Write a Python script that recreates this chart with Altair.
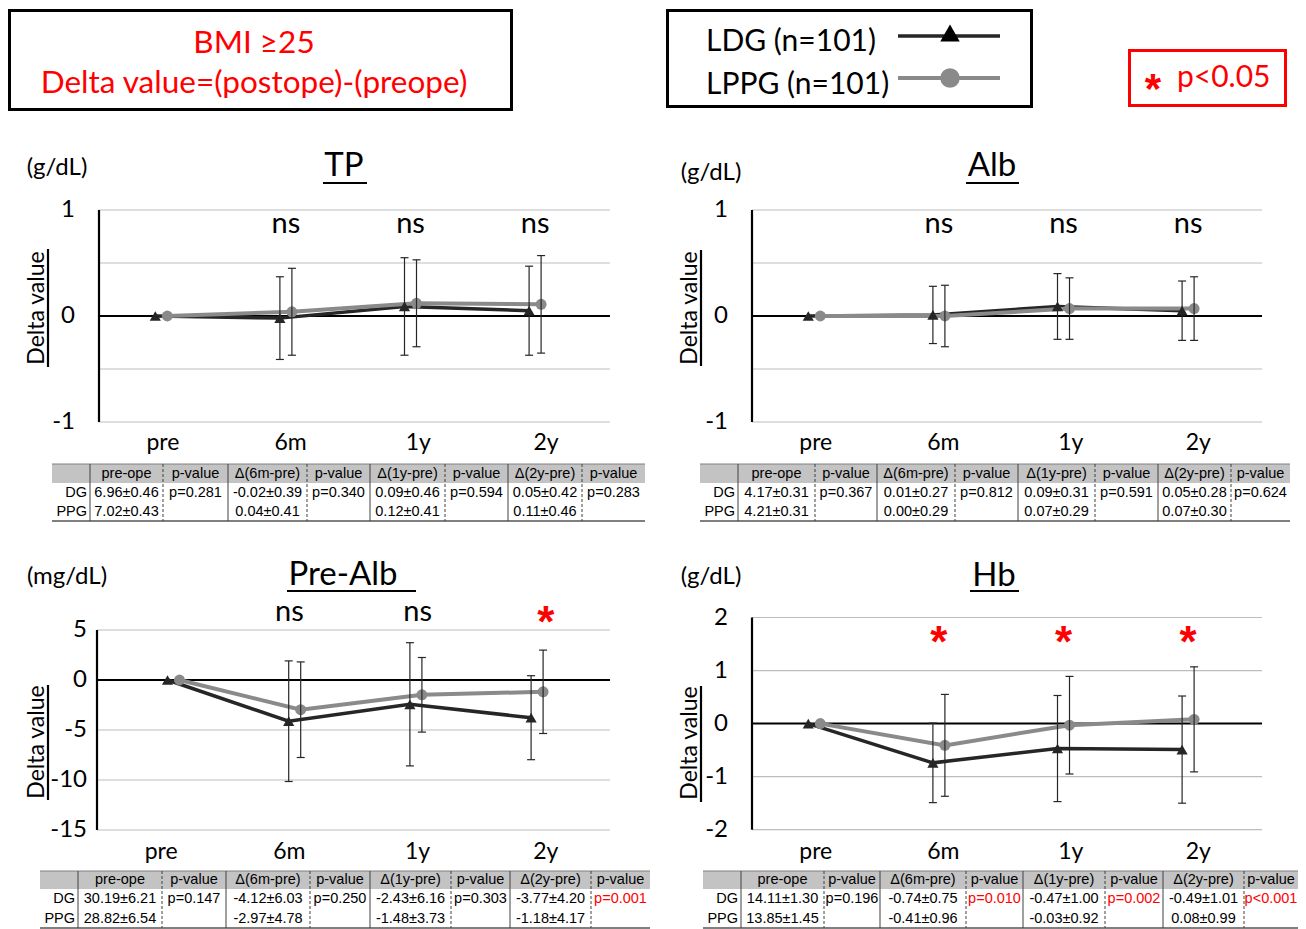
import altair as alt
import pandas as pd

# ---------------- data ----------------
times = ["pre", "6m", "1y", "2y"]
table_header = ["pre-ope", "p-value", "Δ(6m-pre)", "p-value", "Δ(1y-pre)", "p-value", "Δ(2y-pre)", "p-value"]
row_names = ["DG", "PPG"]

# TP
tp_dg_mean = [0.00, -0.02, 0.09, 0.05]
tp_dg_sd = [0.00, 0.39, 0.46, 0.42]
tp_ppg_mean = [0.00, 0.04, 0.12, 0.11]
tp_ppg_sd = [0.00, 0.41, 0.41, 0.46]
tp_pre_mean = [6.96, 7.02]
tp_pre_sd = [0.46, 0.43]
tp_p = ["p=0.281", "p=0.340", "p=0.594", "p=0.283"]
tp_sig = ["ns", "ns", "ns"]
tp_grid = [1, 0.5, 0, -0.5, -1]
tp_ticks = ["1", "0", "-1"]

# Alb
alb_dg_mean = [0.00, 0.01, 0.09, 0.05]
alb_dg_sd = [0.00, 0.27, 0.31, 0.28]
alb_ppg_mean = [0.00, 0.00, 0.07, 0.07]
alb_ppg_sd = [0.00, 0.29, 0.29, 0.30]
alb_pre_mean = [4.17, 4.21]
alb_pre_sd = [0.31, 0.31]
alb_p = ["p=0.367", "p=0.812", "p=0.591", "p=0.624"]
alb_sig = ["ns", "ns", "ns"]
alb_grid = [1, 0.5, 0, -0.5, -1]
alb_ticks = ["1", "0", "-1"]

# Pre-Alb
pa_dg_mean = [0.00, -4.12, -2.43, -3.77]
pa_dg_sd = [0.00, 6.03, 6.16, 4.20]
pa_ppg_mean = [0.00, -2.97, -1.48, -1.18]
pa_ppg_sd = [0.00, 4.78, 3.73, 4.17]
pa_pre_mean = [30.19, 28.82]
pa_pre_sd = [6.21, 6.54]
pa_p = ["p=0.147", "p=0.250", "p=0.303", "p=0.001"]
pa_sig = ["ns", "ns", "*"]
pa_grid = [5, 0, -5, -10, -15]
pa_ticks = ["5", "0", "-5", "-10", "-15"]

# Hb
hb_dg_mean = [0.00, -0.74, -0.47, -0.49]
hb_dg_sd = [0.00, 0.75, 1.00, 1.01]
hb_ppg_mean = [0.00, -0.41, -0.03, 0.08]
hb_ppg_sd = [0.00, 0.96, 0.92, 0.99]
hb_pre_mean = [14.11, 13.85]
hb_pre_sd = [1.30, 1.45]
hb_p = ["p=0.196", "p=0.010", "p=0.002", "p<0.001"]
hb_sig = ["*", "*", "*"]
hb_grid = [2, 1, 0, -1, -2]
hb_ticks = ["2", "1", "0", "-1", "-2"]

# ---------------- layout / style (page pixel coords) ----------------
FONT = "Lato"
TFONT = "Liberation Sans"
DARK = "#262626"
GRAYL = "#8a8a8a"
GRID = "#bdbdbd"
RED = "#ff0000"
TSIZE = 14.5

LAY = {
    "TP": dict(L=99, R=610, top=210, bot=422, c0=161.3, pitch=124.6, gap=24, sig_band=False,
               unit=(57, 168), title=(344, 165), tul=(323, 367, 183),
               ytit=(37, 308), yul=(48, 249, 367), sigy=224, caty=443,
               edges=[52, 90, 163, 228, 307, 370, 445, 508, 582, 645], rows=[464, 483, 502, 521]),
    "Alb": dict(L=752, R=1262, top=210, bot=422, c0=814.3, pitch=124.6, gap=24, sig_band=False,
                unit=(711, 173), title=(992, 165), tul=(966, 1019, 183),
                ytit=(690, 308), yul=(701, 250, 366), sigy=224, caty=443,
                edges=[700, 738, 815, 877, 955, 1018, 1095, 1158, 1231, 1290], rows=[464, 483, 502, 521]),
    "Pre-Alb": dict(L=97, R=610, top=630, bot=830, c0=173.5, pitch=121.2, gap=10, sig_band=True,
                    unit=(67, 577), title=(343, 574), tul=(287, 416, 591),
                    ytit=(37, 742), yul=(48, 685, 800), sigy=612, caty=852,
                    edges=[40, 78, 162, 226, 310, 370, 451, 510, 591, 650], rows=[871, 889, 909, 928]),
    "Hb": dict(L=752, R=1262, top=617.5, bot=829.7, c0=814.3, pitch=124.6, gap=24, sig_band=False,
               unit=(711, 577), title=(994, 575), tul=(970, 1019, 591),
               ytit=(690, 743), yul=(701, 686, 802), sigy=632, caty=852,
               edges=[703, 741, 824, 880, 966, 1023, 1105, 1163, 1244, 1298], rows=[871, 889, 909, 928]),
}


def P(v):
    return v - 8


def txt(s, x, y, size, color="black", align="center", font=FONT, angle=None, baseline="middle", weight=None):
    kw = dict(align=align, baseline=baseline, fontSize=size, color=color, font=font)
    if angle is not None:
        kw["angle"] = angle
    if weight is not None:
        kw["fontWeight"] = weight
    return alt.Chart(pd.DataFrame({"t": [s]})).mark_text(**kw).encode(
        x=alt.value(P(x)), y=alt.value(P(y)), text="t:N")


def hrule(x1, x2, y, w, color="black"):
    return alt.Chart(pd.DataFrame({"k": [0]})).mark_rule(color=color, strokeWidth=w).encode(
        x=alt.value(P(x1)), x2=alt.value(P(x2)), y=alt.value(P(y)))


def vrule(x, y1, y2, w, color="black"):
    return alt.Chart(pd.DataFrame({"k": [0]})).mark_rule(color=color, strokeWidth=w).encode(
        x=alt.value(P(x)), y=alt.value(P(y1)), y2=alt.value(P(y2)))


def fmt(m, s):
    return f"{m:.2f}±{s:.2f}"


def panel(name, unit, dgm, dgs, ppm, pps, sig, grid, ticks, lay):
    L, R, top, bot = P(lay["L"]), P(lay["R"]), P(lay["top"]), P(lay["bot"])
    ys = alt.Scale(domain=[min(grid), max(grid)], range=[bot, top], zero=False, nice=False)
    xs = alt.Scale(domain=[0, 3], range=[P(lay["c0"]), P(lay["c0"] + 3 * lay["pitch"])], zero=False, nice=False)
    xb = alt.Scale(type="band", domain=times, range=[L, R], paddingInner=0, paddingOuter=0)
    out = []
    gdf = pd.DataFrame({"v": grid})
    out.append(alt.Chart(gdf).transform_filter("datum.v != 0").mark_rule(color=GRID, strokeWidth=1.2).encode(
        y=alt.Y("v:Q", scale=ys, axis=None), x=alt.value(L), x2=alt.value(R)))
    out.append(alt.Chart(gdf).transform_filter("datum.v == 0").mark_rule(color="black", strokeWidth=2).encode(
        y=alt.Y("v:Q", scale=ys, axis=None), x=alt.value(L), x2=alt.value(R)))
    out.append(alt.Chart(pd.DataFrame({"a": [max(grid)], "b": [min(grid)]})).mark_rule(
        color="black", strokeWidth=2.2).encode(x=alt.value(L), y=alt.Y("a:Q", scale=ys, axis=None), y2="b:Q"))
    tdf = pd.DataFrame({"lab": ticks, "v": [float(t) for t in ticks]})
    out.append(alt.Chart(tdf).mark_text(align="right", baseline="middle", font=FONT, fontSize=24, color="black").encode(
        y=alt.Y("v:Q", scale=ys, axis=None), x=alt.value(L - lay["gap"]), text="lab:N"))
    out.append(alt.Chart(pd.DataFrame({"t": times})).mark_text(baseline="middle", font=FONT, fontSize=23, color="black").encode(
        x=alt.X("t:N", scale=xb, axis=None), y=alt.value(P(lay["caty"])), text="t:N"))

    series = [(dgm, dgs, DARK, -6, "triangle-up", 125, 3.5), (ppm, pps, GRAYL, 6, "circle", 120, 4)]
    for m, s, color, off, shape, size, lw in series:
        df = pd.DataFrame({"i": list(range(4)), "m": m, "s": s})
        out.append(alt.Chart(df).mark_line(color=color, strokeWidth=lw, xOffset=off).encode(
            x=alt.X("i:Q", scale=xs, axis=None), y=alt.Y("m:Q", scale=ys, axis=None)))
    for m, s, color, off, shape, size, lw in series:
        df = pd.DataFrame({"i": list(range(4)), "m": m, "s": s})
        out.append(alt.Chart(df).mark_point(shape=shape, filled=True, size=size, color=color, opacity=1, xOffset=off).encode(
            x=alt.X("i:Q", scale=xs, axis=None), y=alt.Y("m:Q", scale=ys, axis=None)))
    for m, s, color, off, shape, size, lw in series:
        df = pd.DataFrame({"i": list(range(4)), "m": m, "s": s})
        df["lo"] = df["m"] - df["s"]
        df["hi"] = df["m"] + df["s"]
        eb = df[df["s"] > 0]
        out.append(alt.Chart(eb).mark_rule(color=DARK, strokeWidth=1.2, xOffset=off).encode(
            x=alt.X("i:Q", scale=xs, axis=None), y=alt.Y("lo:Q", scale=ys, axis=None), y2="hi:Q"))
        caps = pd.DataFrame({"i": list(eb["i"]) * 2, "e": list(eb["lo"]) + list(eb["hi"])})
        out.append(alt.Chart(caps).mark_tick(color=DARK, orient="horizontal", size=8, thickness=1.2,
                                             opacity=1, xOffset=off).encode(
            x=alt.X("i:Q", scale=xs, axis=None), y=alt.Y("e:Q", scale=ys, axis=None)))

    sdf = pd.DataFrame({"i": [1, 2, 3], "t": times[1:], "s": sig})
    if lay["sig_band"]:
        sx = alt.X("t:N", scale=xb, axis=None)
    else:
        sx = alt.X("i:Q", scale=xs, axis=None)
    out.append(alt.Chart(sdf).transform_filter("datum.s == 'ns'").mark_text(
        font=FONT, fontSize=29, baseline="middle", color="black").encode(
        x=sx, y=alt.value(P(lay["sigy"])), text="s:N"))
    out.append(alt.Chart(sdf).transform_filter("datum.s == '*'").mark_text(
        font=TFONT, fontSize=44, fontWeight="bold", baseline="alphabetic", color=RED).encode(
        x=sx, y=alt.value(P(lay["sigy"]) + 25), text="s:N"))

    out.append(txt(name, lay["title"][0], lay["title"][1] + 1, 33))
    out.append(hrule(lay["tul"][0], lay["tul"][1], lay["tul"][2], 2.2))
    out.append(txt(unit, lay["unit"][0], lay["unit"][1], 24))
    out.append(txt("Delta value", lay["ytit"][0], lay["ytit"][1], 23, angle=270))
    out.append(vrule(lay["yul"][0], lay["yul"][1], lay["yul"][2], 2.2))
    return out


def table(lay, pre_m, pre_s, dgm, dgs, ppm, pps, pvals, sig):
    edges = [P(e) for e in lay["edges"]]
    rows = [P(r) for r in lay["rows"]]
    tx = alt.Scale(domain=list(range(10)), range=edges, zero=False, nice=False)
    ty = alt.Scale(domain=[0, 1, 2, 3], range=rows, zero=False, nice=False)
    out = []
    out.append(alt.Chart(pd.DataFrame({"a": [0], "b": [9], "r0": [0], "r1": [1]})).mark_rect(
        color="#c3c3c3", opacity=1).encode(
        x=alt.X("a:Q", scale=tx, axis=None), x2="b:Q", y=alt.Y("r0:Q", scale=ty, axis=None), y2="r1:Q"))
    for r, col in [(0, "#808080"), (3, "#000000")]:
        out.append(alt.Chart(pd.DataFrame({"a": [0], "b": [9], "r": [r]})).mark_rule(color=col, strokeWidth=1).encode(
            x=alt.X("a:Q", scale=tx, axis=None), x2="b:Q", y=alt.Y("r:Q", scale=ty, axis=None)))
    out.append(alt.Chart(pd.DataFrame({"e": [1, 3, 5, 7], "r0": [0] * 4, "r1": [3] * 4})).mark_rule(
        color="#404040", strokeWidth=1).encode(
        x=alt.X("e:Q", scale=tx, axis=None), y=alt.Y("r0:Q", scale=ty, axis=None), y2="r1:Q"))
    out.append(alt.Chart(pd.DataFrame({"e": [2, 4, 6, 8], "r0": [0] * 4, "r1": [3] * 4})).mark_rule(
        color="#404040", strokeWidth=1, strokeDash=[3, 2]).encode(
        x=alt.X("e:Q", scale=tx, axis=None), y=alt.Y("r0:Q", scale=ty, axis=None), y2="r1:Q"))

    cells = []
    for c, h in enumerate(table_header, start=1):
        cells.append((c, 0, h, False))
    cells.append((1, 1, fmt(pre_m[0], pre_s[0]), False))
    cells.append((2, 1, pvals[0], False))
    cells.append((1, 2, fmt(pre_m[1], pre_s[1]), False))
    for k in range(1, 4):
        cells.append((2 * k + 1, 1, fmt(dgm[k], dgs[k]), False))
        cells.append((2 * k + 2, 1, pvals[k], sig[k - 1] == "*"))
        cells.append((2 * k + 1, 2, fmt(ppm[k], pps[k]), False))
    cdf = pd.DataFrame(cells, columns=["c", "r", "t", "red"])
    cdf["xc"] = cdf["c"] + 0.5
    cdf["yc"] = cdf["r"] + 0.5
    out.append(alt.Chart(cdf).mark_text(font=TFONT, fontSize=TSIZE, baseline="middle").encode(
        x=alt.X("xc:Q", scale=tx, axis=None), y=alt.Y("yc:Q", scale=ty, axis=None), text="t:N",
        color=alt.condition(alt.datum.red, alt.value(RED), alt.value("black"))))
    ndf = pd.DataFrame({"e": [1, 1], "yc": [1.5, 2.5], "t": row_names})
    out.append(alt.Chart(ndf).mark_text(font=TFONT, fontSize=TSIZE, baseline="middle", align="right", dx=-3,
                                        color="black").encode(
        x=alt.X("e:Q", scale=tx, axis=None), y=alt.Y("yc:Q", scale=ty, axis=None), text="t:N"))
    return out


def box(x1, y1, x2, y2, color):
    return alt.Chart(pd.DataFrame({"k": [0]})).mark_rect(fill="white", stroke=color, strokeWidth=3).encode(
        x=alt.value(P(x1)), x2=alt.value(P(x2)), y=alt.value(P(y1)), y2=alt.value(P(y2)))


layers = []
# header boxes
layers.append(box(9.5, 10.5, 511.5, 109.5, "black"))
layers.append(txt("BMI ≥25", 254, 44, 31.5, color=RED))
layers.append(txt("Delta value=(postope)-(preope)", 254, 84, 31.5, color=RED))
layers.append(box(667.5, 10.5, 1031.5, 106.5, "black"))
layers.append(txt("LDG (n=101)", 706, 42, 30, align="left"))
layers.append(txt("LPPG (n=101)", 706, 85, 30, align="left"))
layers.append(hrule(898, 1000, 36, 3.5, DARK))
layers.append(hrule(898, 1000, 78, 4, GRAYL))
layers.append(alt.Chart(pd.DataFrame({"k": [0]})).mark_point(shape="triangle-up", filled=True, size=380,
                                                             color="black", opacity=1).encode(
    x=alt.value(P(950)), y=alt.value(P(33))))
layers.append(alt.Chart(pd.DataFrame({"k": [0]})).mark_point(shape="circle", filled=True, size=380,
                                                             color=GRAYL, opacity=1).encode(
    x=alt.value(P(950)), y=alt.value(P(78))))
layers.append(box(1129.5, 50.5, 1285.5, 105.5, RED))
layers.append(txt("*", 1153, 79 + 24, 42, color=RED, font=TFONT, baseline="alphabetic", weight="bold"))
layers.append(txt("p<0.05", 1177, 78, 30, color=RED, align="left"))

# panels
layers += panel("TP", "(g/dL)", tp_dg_mean, tp_dg_sd, tp_ppg_mean, tp_ppg_sd, tp_sig, tp_grid, tp_ticks, LAY["TP"])
layers += table(LAY["TP"], tp_pre_mean, tp_pre_sd, tp_dg_mean, tp_dg_sd, tp_ppg_mean, tp_ppg_sd, tp_p, tp_sig)
layers += panel("Alb", "(g/dL)", alb_dg_mean, alb_dg_sd, alb_ppg_mean, alb_ppg_sd, alb_sig, alb_grid, alb_ticks, LAY["Alb"])
layers += table(LAY["Alb"], alb_pre_mean, alb_pre_sd, alb_dg_mean, alb_dg_sd, alb_ppg_mean, alb_ppg_sd, alb_p, alb_sig)
layers += panel("Pre-Alb", "(mg/dL)", pa_dg_mean, pa_dg_sd, pa_ppg_mean, pa_ppg_sd, pa_sig, pa_grid, pa_ticks, LAY["Pre-Alb"])
layers += table(LAY["Pre-Alb"], pa_pre_mean, pa_pre_sd, pa_dg_mean, pa_dg_sd, pa_ppg_mean, pa_ppg_sd, pa_p, pa_sig)
layers += panel("Hb", "(g/dL)", hb_dg_mean, hb_dg_sd, hb_ppg_mean, hb_ppg_sd, hb_sig, hb_grid, hb_ticks, LAY["Hb"])
layers += table(LAY["Hb"], hb_pre_mean, hb_pre_sd, hb_dg_mean, hb_dg_sd, hb_ppg_mean, hb_ppg_sd, hb_p, hb_sig)

chart = alt.layer(*layers).properties(
    width=1290, height=921, padding=0, autosize=alt.AutoSizeParams(type="none"),
    background="white",
).resolve_scale(x="independent", y="independent").configure_view(stroke=None)

chart.save("out.html", embed_options={"renderer": "svg", "actions": False})
